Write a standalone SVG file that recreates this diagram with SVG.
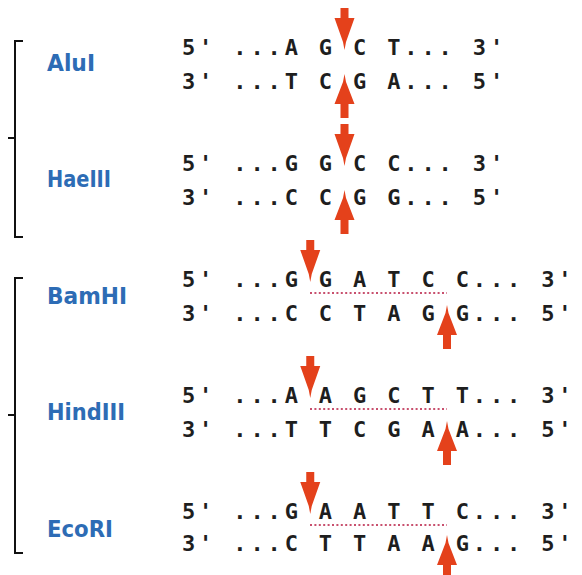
<svg xmlns="http://www.w3.org/2000/svg" width="582" height="575" viewBox="0 0 582 575">
<style>
.seq{font-family:"DejaVu Sans Mono","Liberation Mono",monospace;font-weight:bold;font-size:22px;letter-spacing:3.86px;fill:#1e1e1e;white-space:pre}
.lbl{font-family:"DejaVu Sans Condensed","DejaVu Sans",sans-serif;font-stretch:condensed;font-weight:bold;font-size:23px;fill:#2d6cb5}
.br{fill:none;stroke:#111;stroke-width:2}
.dot{fill:none;stroke:#c8506e;stroke-width:2;stroke-dasharray:2 2.4}
.arr{fill:#e4411b}
</style>
<defs>
<path id="down" d="M0,0 L-1.5,-8 L-10,-32 L-4,-32 L-4,-42 L4,-42 L4,-32 L10,-32 L1.5,-8 Z"/>
<path id="up" d="M0,0 L-1.5,8 L-10,30 L-4,30 L-4,44 L4,44 L4,30 L10,30 L1.5,8 Z"/>
</defs>
<rect width="582" height="575" fill="#ffffff"/>
<g id="connectors">
<path class="br" d="M23,41 H15 V237 H23 M15,138 H8"/>
<path class="br" d="M23,278 H15 V553 H23 M15,415 H8"/>
<line class="dot" x1="310" y1="293" x2="447" y2="293"/>
<line class="dot" x1="310" y1="409" x2="447" y2="409"/>
<line class="dot" x1="310" y1="525" x2="447" y2="525"/>
</g>
<g id="AluI">
<text class="lbl" x="47" y="71" textLength="48" lengthAdjust="spacingAndGlyphs">AluI</text>
<text class="seq" x="182" y="55" xml:space="preserve">5' ...A G C T... 3'</text>
<text class="seq" x="182" y="89" xml:space="preserve">3' ...T C G A... 5'</text>
<use href="#down" class="arr" x="344.5" y="50"/>
<use href="#up" class="arr" x="344.5" y="74"/>
</g>
<g id="HaeIII">
<text class="lbl" x="47" y="187" textLength="64" lengthAdjust="spacingAndGlyphs">HaeIII</text>
<text class="seq" x="182" y="171" xml:space="preserve">5' ...G G C C... 3'</text>
<text class="seq" x="182" y="205" xml:space="preserve">3' ...C C G G... 5'</text>
<use href="#down" class="arr" x="344.5" y="166"/>
<use href="#up" class="arr" x="344.5" y="190"/>
</g>
<g id="BamHI">
<text class="lbl" x="47" y="304" textLength="80" lengthAdjust="spacingAndGlyphs">BamHI</text>
<text class="seq" x="182" y="287" xml:space="preserve">5' ...G G A T C C... 3'</text>
<text class="seq" x="182" y="321" xml:space="preserve">3' ...C C T A G G... 5'</text>
<use href="#down" class="arr" x="310.25" y="282"/>
<use href="#up" class="arr" x="447" y="305"/>
</g>
<g id="HindIII">
<text class="lbl" x="47" y="420" textLength="78" lengthAdjust="spacingAndGlyphs">HindIII</text>
<text class="seq" x="182" y="403" xml:space="preserve">5' ...A A G C T T... 3'</text>
<text class="seq" x="182" y="437" xml:space="preserve">3' ...T T C G A A... 5'</text>
<use href="#down" class="arr" x="310.25" y="398"/>
<use href="#up" class="arr" x="447" y="421"/>
</g>
<g id="EcoRI">
<text class="lbl" x="47" y="537" textLength="66" lengthAdjust="spacingAndGlyphs">EcoRI</text>
<text class="seq" x="182" y="519" xml:space="preserve">5' ...G A A T T C... 3'</text>
<text class="seq" x="182" y="551" xml:space="preserve">3' ...C T T A A G... 5'</text>
<use href="#down" class="arr" x="310.25" y="514"/>
<use href="#up" class="arr" x="447" y="535"/>
</g>
</svg>
